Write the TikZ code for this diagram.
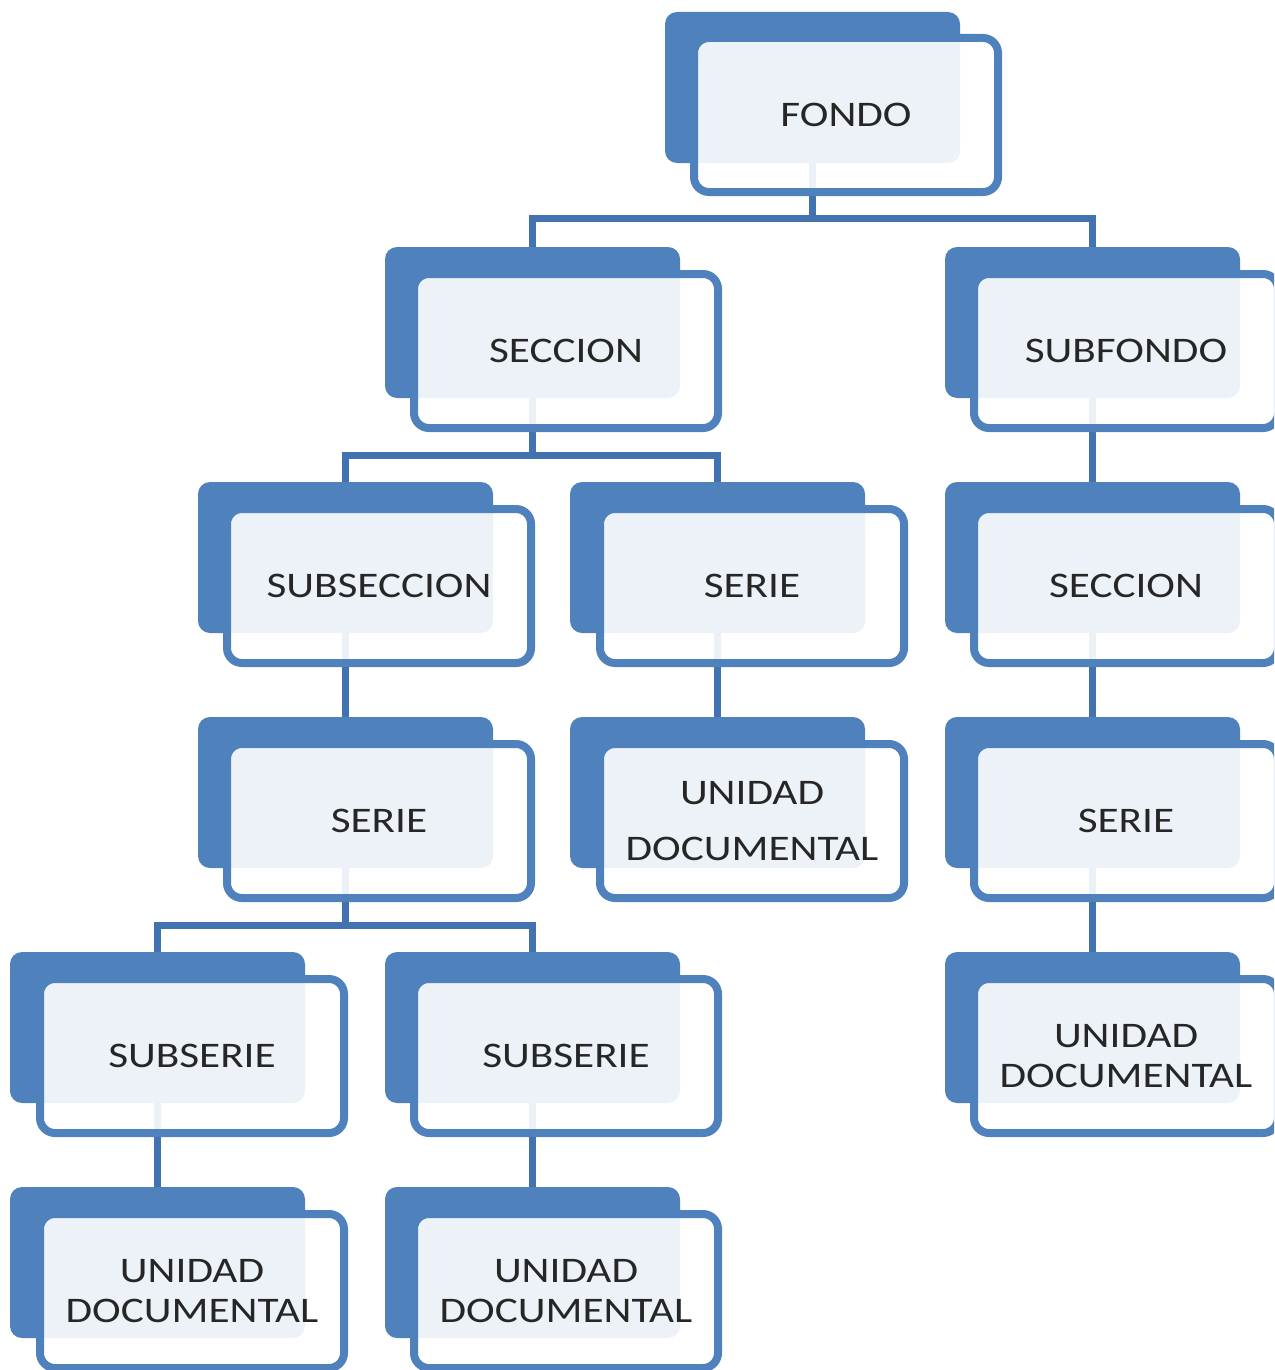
\documentclass[tikz,border=0pt]{standalone}
\usepackage{fontspec}
\setmainfont{Carlito}[FakeStretch=1.2]
\definecolor{boxblue}{RGB}{79,129,189}
\definecolor{lineblue}{RGB}{66,114,176}
\tikzset{
  backbox/.style={fill=boxblue, rounded corners=6pt, minimum width=147.5pt, minimum height=75.5pt, inner sep=0pt},
  frontbox/.style={draw=boxblue, line width=4pt, fill=white, fill opacity=0.9, text opacity=1, rounded corners=7.5pt, minimum width=152pt, minimum height=77pt, inner sep=0pt, align=center, font=\fontsize{18pt}{20pt}\selectfont, text=black!85},
  link/.style={draw=lineblue, line width=3.5pt},
}
\begin{document}
\begin{tikzpicture}[x=0.5pt,y=-0.5pt]
\useasboundingbox (0,0) rectangle (1274,1370);
\clip (0,0) rectangle (1274,1370);
% back boxes
\node[backbox] (fondob) at (812.5,87.5) {};
\node[backbox] (seccionb) at (532.5,322.5) {};
\node[backbox] (subfondob) at (1092.5,322.5) {};
\node[backbox] (subseccionb) at (345.5,557.5) {};
\node[backbox] (serieab) at (717.5,557.5) {};
\node[backbox] (seccionbb) at (1092.5,557.5) {};
\node[backbox] (seriebb) at (345.5,792.5) {};
\node[backbox] (unidadab) at (717.5,792.5) {};
\node[backbox] (seriecb) at (1092.5,792.5) {};
\node[backbox] (subserieab) at (157.5,1027.5) {};
\node[backbox] (subseriebb) at (532.5,1027.5) {};
\node[backbox] (unidadbb) at (1092.5,1027.5) {};
\node[backbox] (unidadcb) at (157.5,1262.5) {};
\node[backbox] (unidaddb) at (532.5,1262.5) {};
% connectors
\draw[link] (fondob.south) -- ++(0,55) -| (seccionb.north);
\draw[link] (fondob.south) -- ++(0,55) -| (subfondob.north);
\draw[link] (seccionb.south) -- ++(0,57) -| (subseccionb.north);
\draw[link] (seccionb.south) -- ++(0,57) -| (serieab.north);
\draw[link] (subfondob.south) -- (seccionbb.north);
\draw[link] (subseccionb.south) -- (seriebb.north);
\draw[link] (serieab.south) -- (unidadab.north);
\draw[link] (seccionbb.south) -- (seriecb.north);
\draw[link] (seriebb.south) -- ++(0,57) -| (subserieab.north);
\draw[link] (seriebb.south) -- ++(0,57) -| (subseriebb.north);
\draw[link] (seriecb.south) -- (unidadbb.north);
\draw[link] (subserieab.south) -- (unidadcb.north);
\draw[link] (subseriebb.south) -- (unidaddb.north);
% front boxes
\node[frontbox] (fondo) at (846,115) {FONDO};
\node[frontbox] (seccion) at (566,351) {SECCION};
\node[frontbox] (subfondo) at (1126,351) {SUBFONDO};
\node[frontbox] (subseccion) at (379,586) {SUBSECCION};
\node[frontbox] (seriea) at (752,586) {SERIE};
\node[frontbox] (seccionb2) at (1126,586) {SECCION};
\node[frontbox] (serieb) at (379,821) {SERIE};
\node[frontbox, font=\fontsize{18pt}{28pt}\selectfont] (unidada) at (752,821) {UNIDAD\\DOCUMENTAL};
\node[frontbox] (seriec) at (1126,821) {SERIE};
\node[frontbox] (subseriea) at (192,1056) {SUBSERIE};
\node[frontbox] (subserieb) at (566,1056) {SUBSERIE};
\node[frontbox] (unidadb) at (1126,1056) {UNIDAD\\DOCUMENTAL};
\node[frontbox] (unidadc) at (192,1291) {UNIDAD\\DOCUMENTAL};
\node[frontbox] (unidadd) at (566,1291) {UNIDAD\\DOCUMENTAL};
\end{tikzpicture}
\end{document}
